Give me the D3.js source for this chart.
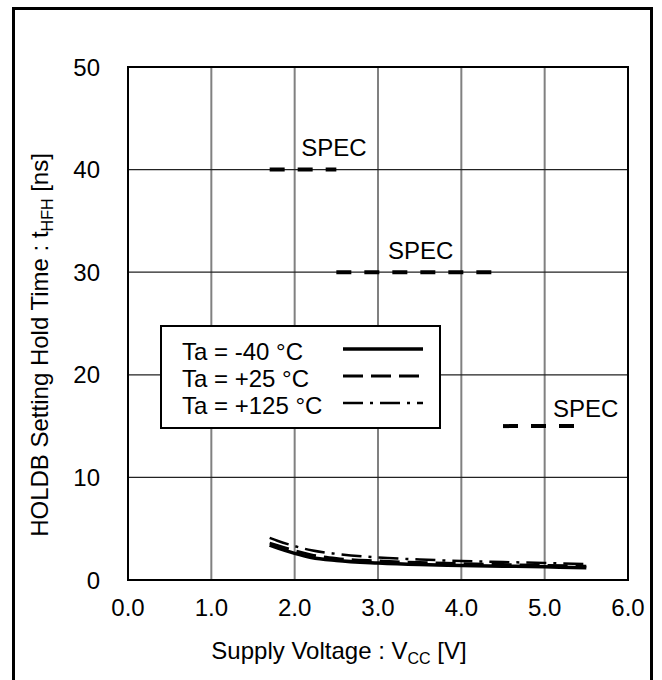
<!DOCTYPE html>
<html>
<head>
<meta charset="utf-8">
<script src="https://cdn.jsdelivr.net/npm/d3@7"></script>
<style>
  body { margin: 0; background: #fff; }
  text { font-family: "Liberation Sans", Arial, sans-serif; fill: #000; }
</style>
</head>
<body>
<svg id="chart"></svg>
<script>
// supply voltage (V)
const vcc = [1.7, 1.8, 2.0, 2.2, 2.5, 3.0, 3.5, 4.0, 4.5, 5.0, 5.5];
// hold time tHFH (ns) per temperature
const tMinus40 = [3.4, 3.1, 2.6, 2.2, 1.9, 1.65, 1.5, 1.42, 1.35, 1.28, 1.2];
const tPlus25 = [3.6, 3.35, 2.85, 2.45, 2.1, 1.85, 1.7, 1.6, 1.5, 1.42, 1.35];
const tPlus125 = [4.1, 3.8, 3.3, 2.9, 2.55, 2.2, 2.0, 1.85, 1.75, 1.65, 1.55];
const seriesNames = ["Ta = -40 °C", "Ta = +25 °C", "Ta = +125 °C"];
// spec limits: [vFrom, vTo, value]
const specs = [[1.7, 2.5, 40], [2.5, 4.5, 30], [4.5, 5.5, 15]];
// where each "SPEC" label starts (V)
const specLabelV = [2.08, 3.12, 5.1];
const xTicks = [0, 1, 2, 3, 4, 5, 6];
const yTicks = [0, 10, 20, 30, 40, 50];

const width = 662;
const height = 680;
const margin = {top: 67, right: 34, bottom: 100, left: 128};
const fontSize = 24;

const svg = d3.select("#chart")
    .attr("width", width)
    .attr("height", height);

// outer frame
svg.append("rect")
    .attr("x", 13.5)
    .attr("y", 8.5)
    .attr("width", 638)
    .attr("height", 700)
    .attr("fill", "none")
    .attr("stroke", "#000")
    .attr("stroke-width", 3);

const x = d3.scaleLinear().domain([0, 6]).range([margin.left, width - margin.right]);
const y = d3.scaleLinear().domain([0, 50]).range([height - margin.bottom, margin.top]);

// grid
svg.append("g")
    .selectAll("line")
    .data(xTicks.slice(1, -1))
    .join("line")
    .attr("x1", d => x(d)).attr("x2", d => x(d))
    .attr("y1", y(50)).attr("y2", y(0))
    .attr("stroke", "#808080")
    .attr("stroke-width", 2);

svg.append("g")
    .selectAll("line")
    .data(yTicks.slice(1, -1))
    .join("line")
    .attr("x1", x(0)).attr("x2", x(6))
    .attr("y1", d => y(d)).attr("y2", d => y(d))
    .attr("stroke", "#222")
    .attr("stroke-width", 1.3);

// plot border
svg.append("rect")
    .attr("x", x(0)).attr("y", y(50))
    .attr("width", x(6) - x(0)).attr("height", y(0) - y(50))
    .attr("fill", "none")
    .attr("stroke", "#000")
    .attr("stroke-width", 2);

// tick labels
svg.append("g")
    .selectAll("text")
    .data(xTicks)
    .join("text")
    .attr("x", d => x(d))
    .attr("y", y(0) + 36)
    .attr("text-anchor", "middle")
    .style("font-size", fontSize + "px")
    .text(d => d.toFixed(1));

svg.append("g")
    .selectAll("text")
    .data(yTicks)
    .join("text")
    .attr("x", x(0) - 28)
    .attr("y", d => y(d))
    .attr("dy", "0.36em")
    .attr("text-anchor", "end")
    .style("font-size", fontSize + "px")
    .text(d => d);

// axis titles
const xt = svg.append("text")
    .attr("x", 339)
    .attr("y", 659)
    .attr("text-anchor", "middle")
    .style("font-size", fontSize + "px");
xt.append("tspan").text("Supply Voltage : V");
xt.append("tspan").attr("dy", 5).style("font-size", "16px").text("CC");
xt.append("tspan").attr("dy", -5).text(" [V]");

const yt = svg.append("text")
    .attr("transform", "translate(48,345) rotate(-90)")
    .attr("text-anchor", "middle")
    .style("font-size", fontSize + "px");
yt.append("tspan").text("HOLDB Setting Hold Time : t");
yt.append("tspan").attr("dy", 5).style("font-size", "16px").text("HFH");
yt.append("tspan").attr("dy", -5).text(" [ns]");

// spec lines
svg.append("g")
    .selectAll("line")
    .data(specs)
    .join("line")
    .attr("x1", d => x(d[0])).attr("x2", d => x(d[1]))
    .attr("y1", d => y(d[2])).attr("y2", d => y(d[2]))
    .attr("stroke", "#000")
    .attr("stroke-width", 4)
    .attr("stroke-dasharray", "15,13");

const specLift = [14, 13, 9];
svg.append("g")
    .selectAll("text")
    .data(specs)
    .join("text")
    .attr("x", (d, i) => x(specLabelV[i]))
    .attr("y", (d, i) => y(d[2]) - specLift[i])
    .style("font-size", fontSize + "px")
    .text("SPEC");

// curves
const series = [tMinus40, tPlus25, tPlus125];
const dashes = [null, "20,8", "20,7,3,7"];
const widths = [3.5, 3, 2.5];
const line = d3.line()
    .x((d, i) => x(vcc[i]))
    .y(d => y(d))
    .curve(d3.curveMonotoneX);

svg.append("g")
    .selectAll("path")
    .data(series)
    .join("path")
    .attr("d", d => line(d))
    .attr("fill", "none")
    .attr("stroke", "#000")
    .attr("stroke-width", (d, i) => widths[i])
    .attr("stroke-dasharray", (d, i) => dashes[i]);

// legend
const legend = svg.append("g").attr("class", "legend");
legend.append("rect")
    .attr("x", 161).attr("y", 326)
    .attr("width", 279).attr("height", 102)
    .attr("fill", "#fff")
    .attr("stroke", "#000")
    .attr("stroke-width", 2);

legend.selectAll("g")
    .data(seriesNames)
    .join("g")
    .each(function (d, i) {
        const g = d3.select(this);
        const cy = 351 + i * 27;
        g.append("text")
            .attr("x", 182)
            .attr("y", cy)
            .attr("dy", "0.36em")
            .style("font-size", fontSize + "px")
            .text(d);
        g.append("line")
            .attr("x1", 343).attr("x2", 423)
            .attr("y1", cy - 2).attr("y2", cy - 2)
            .attr("stroke", "#000")
            .attr("stroke-width", widths[i])
            .attr("stroke-dasharray", dashes[i]);
    });
</script>
</body>
</html>
